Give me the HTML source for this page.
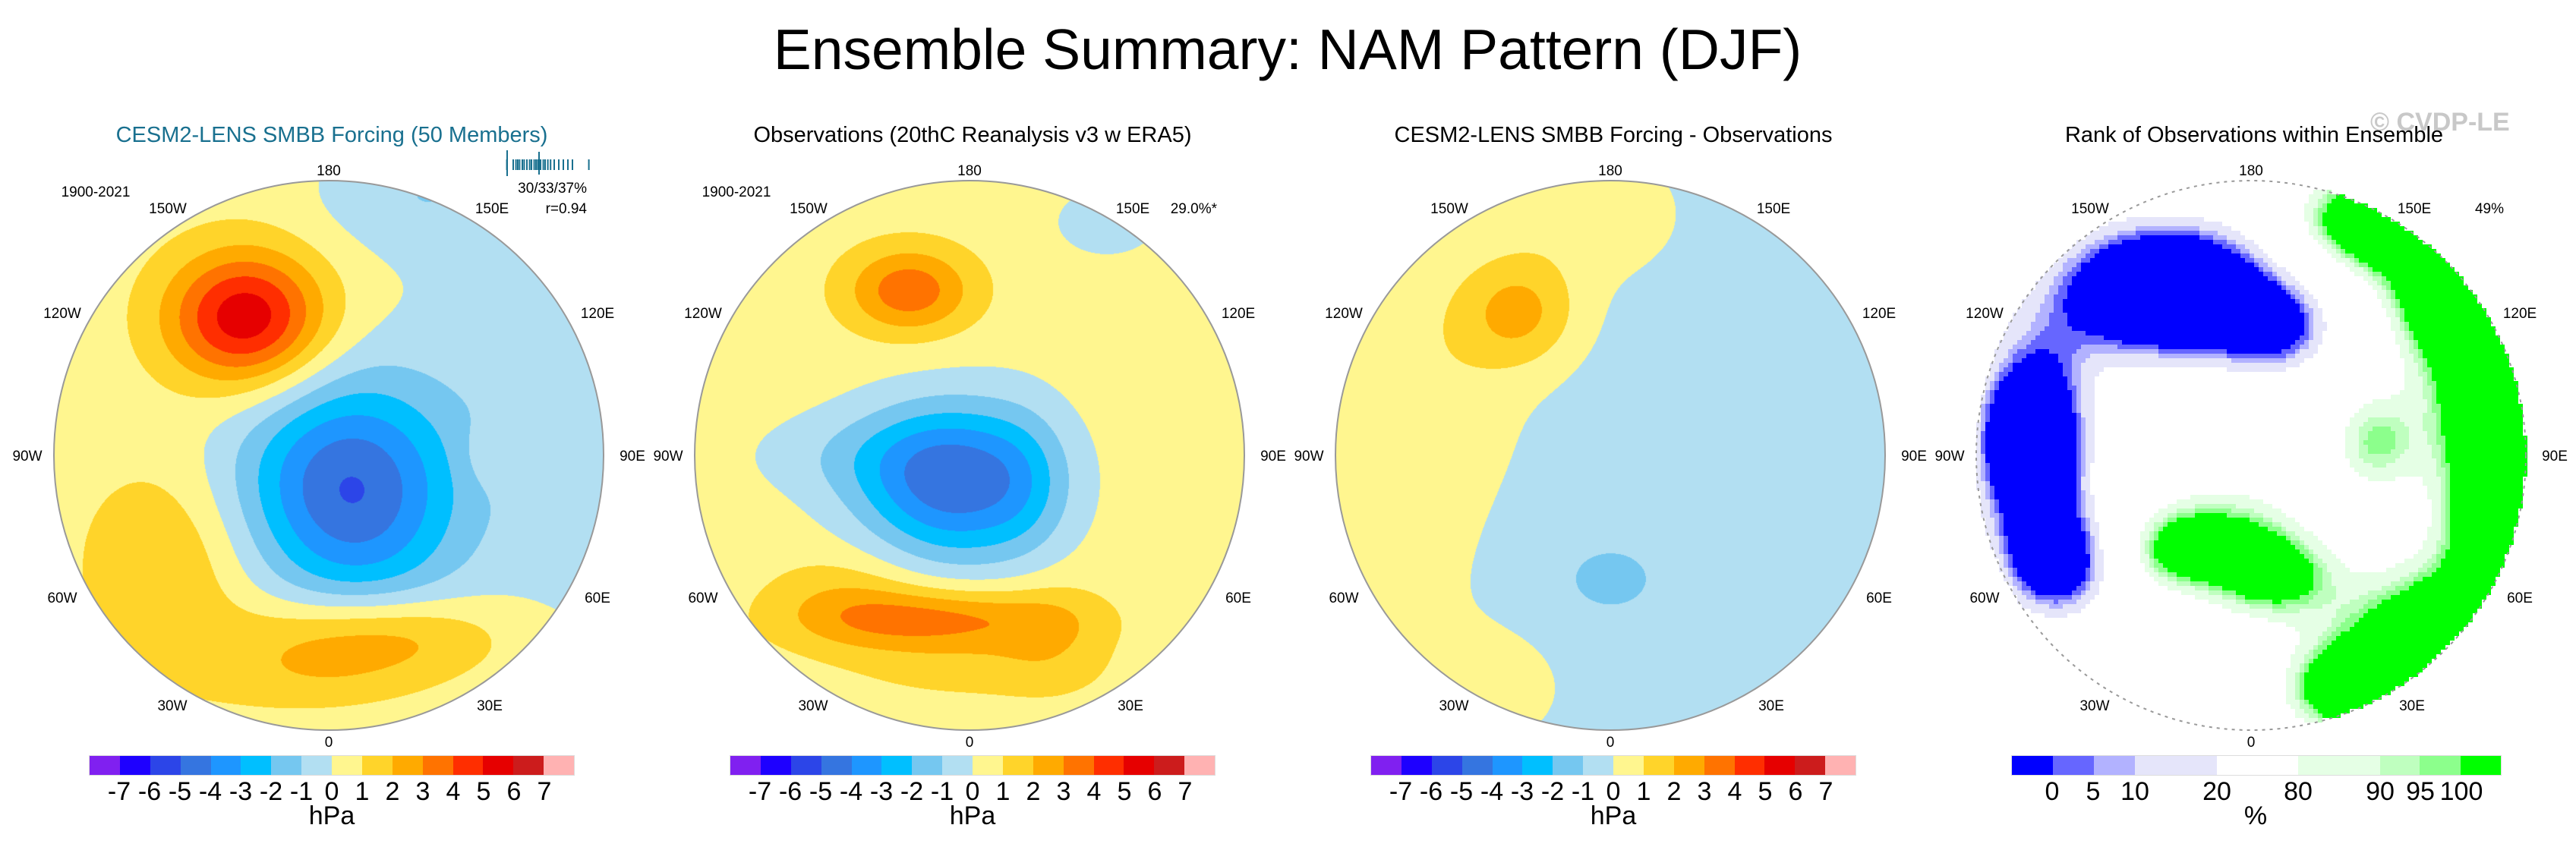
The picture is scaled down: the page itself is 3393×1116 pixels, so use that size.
<!DOCTYPE html>
<html><head><meta charset="utf-8">
<style>
html,body{margin:0;padding:0;background:#fff;}
#root{position:relative;width:3393px;height:1116px;overflow:hidden;font-family:"Liberation Sans",sans-serif;color:#000;}
.t{position:absolute;white-space:nowrap;}
.c{transform:translateX(-50%);}
.r{transform:translateX(-100%);}
.lab{font-size:19px;}
.sub{font-size:29px;top:162px;}
canvas{position:absolute;}
.cb{position:absolute;top:995px;height:27px;display:flex;border:1px solid #ddd;box-sizing:border-box;}
.cb div{height:100%;}
</style></head>
<body>
<div id="root">
<div class="t c" style="left:1696px;top:22px;font-size:75px;">Ensemble Summary: NAM Pattern (DJF)</div>
<div class="t" style="left:3122px;top:142px;font-size:34px;color:#c8c8c8;font-weight:bold;">© CVDP-LE</div>
</div>
<script>
// ---- data ----
const levels = [-7,-6,-5,-4,-3,-2,-1,0,1,2,3,4,5,6,7];
const levelColors = ['#8020f0','#1e00ff','#2c45e8','#3575e0','#1e96ff','#00bfff','#75c7f0','#b2dff2','#fff68f','#ffd42a','#ffaa00','#ff7300','#ff2e00','#e60000','#cc1c1c','#ffb2b2'];
const rankLevels = [0,5,10,20,80,90,95,100];
const rankColors = ['#0000ff','#6666ff','#b2b2ff','#e5e5fa','#ffffff','#e5ffe5','#bfffbf','#8cff8c','#00ff00'];
const panelTitles = ['CESM2-LENS SMBB Forcing (50 Members)','Observations (20thC Reanalysis v3 w ERA5)','CESM2-LENS SMBB Forcing - Observations','Rank of Observations within Ensemble'];
const panelStats = ['r=0.94','29.0%*','','49%'];
const panelBase = [0.5, 0.5, -0.4, 50];
// blobs: [x, y, sx, sy, amplitude] in units of map radius
const blobs1 = [[-0.3,-0.5,0.2,0.17,5.3],[0.1,0.15,0.26,0.3,-4.7],[-0.1,0.05,0.28,0.22,-1.0],
  [1.0,-0.3,0.45,0.8,-1.3],[0.3,-0.95,0.25,0.15,-1.2],
  [0.15,0.66,0.33,0.11,2.6],[-0.6,0.4,0.2,0.25,1.5],[-0.05,0.82,0.3,0.09,1.0],[0.6,0.0,0.08,0.08,0.8]];
const blobs2 = [[-0.22,-0.6,0.16,0.11,3.2],[-0.06,0.1,0.24,0.2,-5.0],[-0.4,0.0,0.3,0.12,-1.0],[0.2,0.1,0.12,0.2,-1.0],
  [-0.12,0.6,0.32,0.08,2.8],[-0.45,0.52,0.2,0.12,1.2],[0.3,0.65,0.14,0.14,1.0],[0.0,0.78,0.3,0.08,0.8],[0.5,-0.85,0.15,0.1,-1.0]];
const blobs3 = [[-0.33,-0.52,0.15,0.14,2.4],[0.0,0.45,0.11,0.08,-1.2],[-0.95,0.05,0.3,0.75,1.2],[-0.1,-0.88,0.25,0.18,1.0],[-0.55,-0.3,0.2,0.3,0.6],[-0.45,0.85,0.2,0.15,0.8]];
const blobs4 = [[-0.3,-0.6,0.3,0.18,-95],[-0.8,-0.05,0.15,0.25,-90],[-0.7,0.4,0.15,0.15,-60],[0.1,-0.45,0.15,0.12,-40],
  [0.45,-0.85,0.2,0.13,85],[0.75,-0.6,0.18,0.18,85],[0.92,-0.25,0.18,0.25,85],[0.95,0.25,0.17,0.25,85],[0.65,0.7,0.22,0.2,85],[0.35,0.85,0.17,0.12,65],
  [-0.1,0.3,0.2,0.15,50],[0.1,0.45,0.17,0.12,48],[0.45,-0.05,0.12,0.14,45],[-0.3,0.35,0.12,0.1,35]];
const allBlobs = [blobs1, blobs2, blobs3, blobs4];
const histTicks = [0.08,0.15,0.18,0.2,0.22,0.25,0.27,0.3,0.33,0.35,0.38,0.4,0.42,0.45,0.48,0.5,0.53,0.56,0.6,0.65,0.7,0.75,0.8,0.98];

const root = document.getElementById('root');
const centers = [433,1277,2121,2965];
const cy = 600, R = 362;

function hex(c){return [parseInt(c.slice(1,3),16),parseInt(c.slice(3,5),16),parseInt(c.slice(5,7),16)];}

function addText(txt,x,y,cls,name,extra){
  const d=document.createElement('div');d.className='t '+cls;d.textContent=txt;
  d.style.left=x+'px';d.style.top=y+'px';if(extra)Object.assign(d.style,extra);
  
  
  root.appendChild(d);return d;
}

centers.forEach((cx,p)=>{
  const isRank = p===3;
  const step = isRank?6:1;
  const n = Math.ceil(2*R/step);
  const cv=document.createElement('canvas');cv.width=n;cv.height=n;
  cv.style.left=(cx-R)+'px';cv.style.top=(cy-R)+'px';cv.style.width=(n*step)+'px';cv.style.height=(n*step)+'px';
  if(isRank)cv.style.imageRendering='pixelated';
  
  
  root.appendChild(cv);
  const ctx=cv.getContext('2d');const img=ctx.createImageData(n,n);
  const lv=isRank?rankLevels:levels, cols=(isRank?rankColors:levelColors).map(hex);
  const bl=allBlobs[p];
  for(let j=0;j<n;j++)for(let i=0;i<n;i++){
    const x=((i+0.5)*step-R)/R, y=((j+0.5)*step-R)/R;
    const k=(j*n+i)*4;
    if(x*x+y*y>1){img.data[k+3]=0;continue;}
    let v=panelBase[p];
    for(const b of bl){const dx=(x-b[0])/b[2],dy=(y-b[1])/b[3];v+=b[4]*Math.exp(-0.5*(dx*dx+dy*dy));}
    let ci=0;while(ci<lv.length&&v>=lv[ci])ci++;
    const c=cols[ci];img.data[k]=c[0];img.data[k+1]=c[1];img.data[k+2]=c[2];img.data[k+3]=255;
  }
  ctx.putImageData(img,0,0);
  const sv=document.createElementNS('http://www.w3.org/2000/svg','svg');
  sv.setAttribute('width',2*R+4);sv.setAttribute('height',2*R+4);
  sv.style.position='absolute';sv.style.left=(cx-R-2)+'px';sv.style.top=(cy-R-2)+'px';
  
  
  sv.innerHTML='<circle cx="'+(R+2)+'" cy="'+(R+2)+'" r="'+R+'" fill="none" stroke="#999" stroke-width="2"'+(isRank?' stroke-dasharray="4 6"':'')+'/>';
  root.appendChild(sv);

  addText(panelTitles[p],cx+4,162,'c sub','panel-title-'+(p+1),{color:p===0?'#19708f':'#000'});
  const L=[['180',0,-373],['150W',-212,-323],['150E',215,-323],['120W',-351,-185],['120E',354,-185],['90W',-397,3],['90E',400,3],['60W',-351,190],['60E',354,190],['30W',-206,332],['30E',212,332],['0',0,380]];
  L.forEach(l=>addText(l[0],cx+l[1],cy+l[2]-12,'c lab','lon-label-'+l[0]));
  if(p<2)addText('1900-2021',cx-307,243,'c lab','period-label');
  if(panelStats[p]){
    const right = p===0?773:(p===1?1603:3298);
    addText(panelStats[p],right,265,'r lab','stat-label');
  }
  if(p===0){
    addText('30/33/37%',773,238,'r lab','percent-label');
    const hs=document.createElementNS('http://www.w3.org/2000/svg','svg');
    hs.setAttribute('width',140);hs.setAttribute('height',40);
    hs.style.position='absolute';hs.style.left='650px';hs.style.top='198px';
    
    
    let s='';histTicks.forEach(t=>{const x=8+t*120;s+='<line x1="'+x+'" x2="'+x+'" y1="12" y2="26" stroke="#19708f" stroke-width="2"/>';});
    s+='<line x1="18" x2="18" y1="0" y2="34" stroke="#19708f" stroke-width="2"/><line x1="60" x2="60" y1="2" y2="32" stroke="#19708f" stroke-width="2"/>';
    hs.innerHTML=s;root.appendChild(hs);
  }

  const cb=document.createElement('div');cb.className='cb';
  
  
  if(!isRank){
    const x0=cx-316, w=40;
    cb.style.left=x0+'px';cb.style.width=(w*16)+'px';
    levelColors.forEach(c=>{const d=document.createElement('div');d.style.width=w+'px';d.style.background=c;cb.appendChild(d);});
    root.appendChild(cb);
    levels.forEach((v,i)=>addText(String(v),x0+w*(i+1),1024,'c','colorbar-tick',{fontSize:'34px'}));
    addText('hPa',cx+4,1056,'c','colorbar-unit',{fontSize:'34px'});
  } else {
    const x0=2649, bw=[54,54,55,108,107,108,53,54,53];
    cb.style.left=x0+'px';cb.style.width=bw.reduce((a,b)=>a+b)+'px';
    rankColors.forEach((c,i)=>{const d=document.createElement('div');d.style.width=bw[i]+'px';d.style.background=c;cb.appendChild(d);});
    root.appendChild(cb);
    let acc=x0;rankLevels.forEach((v,i)=>{acc+=bw[i];addText(String(v),acc,1024,'c','colorbar-tick',{fontSize:'34px'});});
    addText('%',2971,1056,'c','colorbar-unit',{fontSize:'34px'});
  }
});
</script>
</body></html>
